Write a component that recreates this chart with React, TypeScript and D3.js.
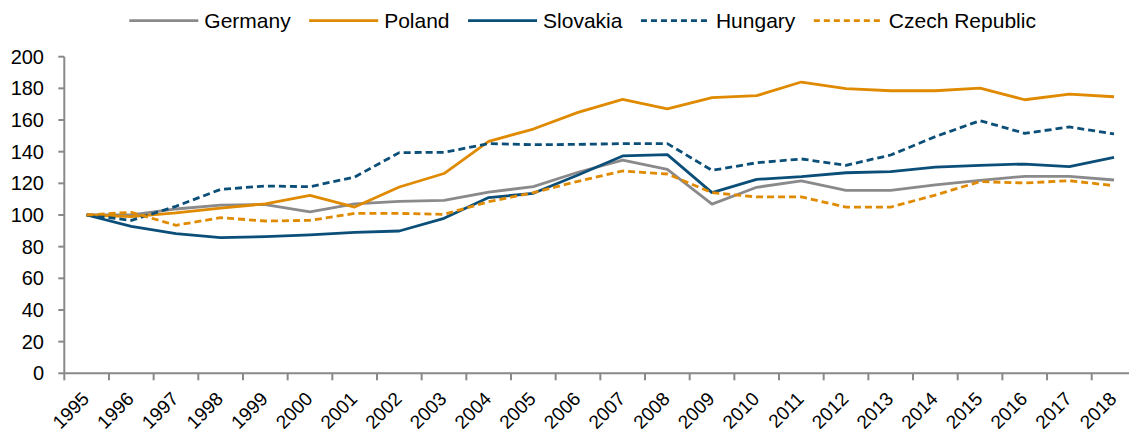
import { useEffect, useRef } from 'react';
import * as d3 from 'd3';

const years = ['1995', '1996', '1997', '1998', '1999', '2000', '2001', '2002', '2003', '2004', '2005', '2006',
  '2007', '2008', '2009', '2010', '2011', '2012', '2013', '2014', '2015', '2016', '2017', '2018'];

const germany = [100, 100, 103.8, 106.2, 106.6, 102, 107, 108.6, 109.2, 114.5, 117.9, 127, 134.7, 128.8, 106.9,
  117.5, 121.6, 115.6, 115.6, 119, 121.9, 124.4, 124.4, 122.1];
const poland = [100, 99, 101.3, 104.4, 107, 112.4, 105, 117.7, 126.2, 146.5, 154.3, 164.8, 173.1, 167, 174.1,
  175.4, 184, 179.8, 178.5, 178.5, 180.2, 172.8, 176.4, 174.7];
const slovakia = [100, 92.8, 88.2, 85.7, 86.3, 87.4, 89, 89.9, 97.9, 111, 113.7, 125.3, 137.3, 138.1, 114.1,
  122.5, 124.2, 126.7, 127.4, 130.3, 131.4, 132.2, 130.5, 136.4];
const hungary = [100, 96.6, 105.5, 116.2, 118.3, 117.9, 124, 139.4, 139.6, 145.1, 144.4, 144.6, 145.1, 145.1,
  128.2, 133, 135.4, 131.4, 137.9, 149.5, 159.6, 151.6, 155.6, 151.2];
const czech = [100, 101.7, 93.5, 98.3, 96.2, 96.6, 101, 101, 100.4, 108.4, 114.1, 121.3, 127.8, 125.9, 114.1,
  111.4, 111.4, 105, 105, 112.6, 121.1, 120.2, 121.7, 118.5];

const yTicks = [0, 20, 40, 60, 80, 100, 120, 140, 160, 180, 200];

const series = [
  { name: 'Germany', values: germany, color: '#8a8a8c', dash: null },
  { name: 'Poland', values: poland, color: '#df8a00', dash: null },
  { name: 'Slovakia', values: slovakia, color: '#0b4f79', dash: null },
  { name: 'Hungary', values: hungary, color: '#0b4f79', dash: '7,4' },
  { name: 'Czech Republic', values: czech, color: '#df8a00', dash: '7,4' },
];

const FONT = 'Arial, "Liberation Sans", sans-serif';

export default function App() {
  const svgRef = useRef<SVGSVGElement>(null);

  useEffect(() => {
    if (!svgRef.current) return;
    const svg = d3.select(svgRef.current);
    svg.selectAll('*').remove();

    const left = 64.3;
    const band = 44.67;
    const x = d3.scaleBand<string>().domain(years).range([left, left + band * years.length]);
    const y = d3.scaleLinear().domain([0, 200]).range([373.3, 56.7]);
    const axisColor = '#898989';

    // y axis
    svg.append('line')
      .attr('x1', left).attr('x2', left)
      .attr('y1', y(200)).attr('y2', y(0))
      .attr('stroke', axisColor).attr('stroke-width', 2);
    svg.append('g').selectAll('line')
      .data(yTicks)
      .join('line')
      .attr('x1', left - 6).attr('x2', left)
      .attr('y1', (d) => y(d)).attr('y2', (d) => y(d))
      .attr('stroke', axisColor).attr('stroke-width', 2);
    svg.append('g').selectAll('text')
      .data(yTicks)
      .join('text')
      .attr('x', 44).attr('y', (d) => y(d))
      .attr('dy', '0.35em')
      .attr('text-anchor', 'end')
      .attr('font-family', FONT).attr('font-size', '20px').attr('fill', '#000')
      .text((d) => d);

    // x axis (ticks sit on the category boundaries)
    svg.append('line')
      .attr('x1', left).attr('x2', 1129)
      .attr('y1', y(0)).attr('y2', y(0))
      .attr('stroke', axisColor).attr('stroke-width', 2);
    svg.append('g').selectAll('line')
      .data(years)
      .join('line')
      .attr('x1', (d) => x(d)!).attr('x2', (d) => x(d)!)
      .attr('y1', y(0)).attr('y2', y(0) + 7)
      .attr('stroke', axisColor).attr('stroke-width', 2);
    svg.append('g').selectAll('text')
      .data(years)
      .join('text')
      .attr('transform', (d) => `translate(${x(d)! + x.bandwidth() / 2 - 1},${y(0) + 22}) rotate(-45)`)
      .attr('text-anchor', 'end')
      .attr('dy', '0.35em')
      .attr('font-family', FONT).attr('font-size', '19px').attr('fill', '#000')
      .text((d) => d);

    // lines
    const line = d3.line<number>()
      .x((_, i) => x(years[i])! + x.bandwidth() / 2)
      .y((d) => y(d));

    series.forEach((s) => {
      svg.append('path')
        .datum(s.values)
        .attr('d', line)
        .attr('fill', 'none')
        .attr('stroke', s.color)
        .attr('stroke-width', 2.8)
        .attr('stroke-linejoin', 'round')
        .attr('stroke-dasharray', s.dash ?? null);
    });

    // legend
    const legend = svg.append('g');
    let cx = 0;
    series.forEach((s) => {
      const item = legend.append('g').attr('transform', `translate(${cx},0)`);
      item.append('line')
        .attr('x1', 0).attr('x2', 69).attr('y1', 20.7).attr('y2', 20.7)
        .attr('stroke', s.color).attr('stroke-width', 2.8)
        .attr('stroke-dasharray', s.dash ? '6,4' : null);
      const t = item.append('text')
        .attr('x', 75).attr('y', 20.7).attr('dy', '0.35em')
        .attr('font-family', FONT).attr('font-size', '21px').attr('fill', '#000')
        .text(s.name);
      const w = (t.node() as SVGTextElement).getComputedTextLength();
      cx += 75 + w + 18.5;
    });
    legend.attr('transform', 'translate(129.3,0)');
  }, []);

  return (
    <svg
      ref={svgRef}
      width={1129}
      height={432}
      style={{ position: 'absolute', left: 0, top: 0, background: '#fff' }}
    />
  );
}
